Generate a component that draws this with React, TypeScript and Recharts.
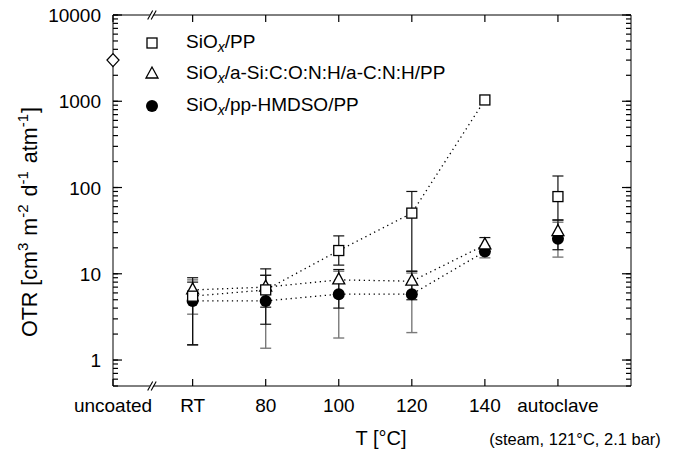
import { ComposedChart, ErrorBar, ReferenceDot, Scatter, XAxis, YAxis } from 'recharts';

// category positions on the numeric x axis (uncoated sits on the left frame, then a break)
const xPositions = [0, 1.09, 2.09, 3.09, 4.09, 5.09, 6.09];
const xLabels = ['uncoated', 'RT', '80', '100', '120', '140', 'autoclave'];
const xMax = 7.09;
const yMajorTicks = [1, 10, 100, 1000, 10000];
const yMin = 0.5;
const yMax = 10000;

// SiOx/PP (open squares): RT, 80, 100, 120, 140, autoclave
const sioxPP = [5.5, 6.5, 18.6, 50.5, 1035, 78.5];
const sioxPPLow = [1.5, 2.6, 12.6, 10.7, null, 42];
const sioxPPHigh = [8.0, 11.4, 27.5, 90, null, 136];

// SiOx/a-Si:C:O:N:H/a-C:N:H/PP (open triangles)
const sioxMulti = [6.5, 7.0, 8.5, 8.2, 21.6, 30.8];
const sioxMultiLow = [1.5, 4.1, 4.0, 5.0, 18.0, 19.0];
const sioxMultiHigh = [9.0, 9.6, 11.2, 10.7, 26.3, 42];

// SiOx/pp-HMDSO/PP (filled circles)
const sioxHmdso = [4.85, 4.85, 5.8, 5.8, 18.1, 25.4];
const sioxHmdsoLow = [3.4, 1.37, 1.8, 2.08, 15.3, 15.6];
const sioxHmdsoHigh = [8.5, 9.6, 10.7, 10.2, 21.0, 39.6];

const uncoatedOTR = 3000;

const FONT = '"Liberation Sans", Arial, Helvetica, sans-serif';

const buildRows = (values: number[], low: (number | null)[], high: (number | null)[]) =>
  values.map((v, i) => ({
    x: xPositions[i + 1],
    y: v,
    err: low[i] == null || high[i] == null ? null : [v - (low[i] as number), (high[i] as number) - v],
  }));

const squareRows = buildRows(sioxPP, sioxPPLow, sioxPPHigh);
const triangleRows = buildRows(sioxMulti, sioxMultiLow, sioxMultiHigh);
const circleRows = buildRows(sioxHmdso, sioxHmdsoLow, sioxHmdsoHigh);
const uncoatedRows = [{ x: xPositions[0], y: uncoatedOTR }];

// the dotted connectors run RT..140 only
const squareLine = squareRows.slice(0, 5);
const triangleLine = triangleRows.slice(0, 5);
const circleLine = circleRows.slice(0, 5);

// log axis: decade ticks plus 2..9 minor ticks inside the plotted range
const yTicks: number[] = [];
[0.1, ...yMajorTicks].forEach((decade) => {
  for (let m = 1; m <= 9; m++) {
    const t = +(decade * m).toPrecision(3);
    if (t >= yMin && t <= yMax && !yTicks.includes(t)) yTicks.push(t);
  }
});
const isMajor = (v: number) => yMajorTicks.includes(v);

// longer marks for the decades, on both vertical frame lines
const majorMarks = [
  ...yMajorTicks.map((t) => ({ x: 0, y: t, dx: 9 })),
  ...yMajorTicks.map((t) => ({ x: xMax, y: t, dx: -9 })),
];

const Square = ({ cx, cy }: any) => (
  <rect x={cx - 5} y={cy - 5} width={10} height={10} fill="#fff" stroke="#000" strokeWidth={1.3} />
);
const Triangle = ({ cx, cy }: any) => (
  <polygon
    points={`${cx},${cy - 7} ${cx - 6},${cy + 4} ${cx + 6},${cy + 4}`}
    fill="#fff"
    stroke="#000"
    strokeWidth={1.3}
  />
);
const Circle = ({ cx, cy }: any) => <circle cx={cx} cy={cy} r={6} fill="#000" />;
const Diamond = ({ cx, cy }: any) => (
  <polygon
    points={`${cx},${cy - 6.5} ${cx + 6},${cy} ${cx},${cy + 6.5} ${cx - 6},${cy}`}
    fill="#fff"
    stroke="#000"
    strokeWidth={1.3}
  />
);
const Hidden = () => <g />;
const MajorMark = (p: any) => (
  <line x1={p.cx} y1={p.cy} x2={p.cx + p.payload.dx} y2={p.cy} stroke="#000" strokeWidth={1.2} />
);

const BreakMark = ({ cx, cy }: any) => (
  <g>
    <line x1={cx - 4} y1={cy + 4} x2={cx + 1} y2={cy - 5} stroke="#fff" strokeWidth={3} />
    <line x1={cx - 5.5} y1={cy + 4.5} x2={cx - 0.5} y2={cy - 4.5} stroke="#000" strokeWidth={1.1} />
    <line x1={cx - 2} y1={cy + 4.5} x2={cx + 3} y2={cy - 4.5} stroke="#000" strokeWidth={1.1} />
  </g>
);

// tick lines point inward (negative tickSize); tickMargin puts x/y back on the frame line
const LeftLabel = ({ x, y, payload }: any) =>
  isMajor(payload.value) ? (
    <text x={x - 12} y={y} dy={7} textAnchor="end" fontSize={19} fill="#000">
      {payload.value}
    </text>
  ) : (
    <g />
  );

const BottomLabel = ({ x, y, index }: any) => (
  <text x={x} y={y + 26} textAnchor="middle" fontSize={19} fill="#000">
    {xLabels[index]}
  </text>
);

const NoLabel = () => <g />;

const YTitle = () => {
  const cx = 37;
  const cy = 222;
  return (
    <text x={cx} y={cy} transform={`rotate(-90, ${cx}, ${cy})`} textAnchor="middle" fontSize={21.5} fill="#000">
      <tspan>OTR [cm</tspan>
      <tspan dy={-9} fontSize={15}>3</tspan>
      <tspan dy={9} dx={7}>m</tspan>
      <tspan dy={-9} fontSize={15}>-2</tspan>
      <tspan dy={9} dx={8}>d</tspan>
      <tspan dy={-9} fontSize={15}>-1</tspan>
      <tspan dy={9} dx={8}>atm</tspan>
      <tspan dy={-9} fontSize={15}>-1</tspan>
      <tspan dy={9} dx={1}>]</tspan>
    </text>
  );
};

const XTitle = ({ viewBox }: any) => (
  <g>
    <text x={381} y={viewBox.y + 59} textAnchor="middle" fontSize={20} fill="#000">
      T [°C]
    </text>
    <text x={575} y={viewBox.y + 59} textAnchor="middle" fontSize={16.5} fill="#000">
      (steam, 121°C, 2.1 bar)
    </text>
  </g>
);

const legendItems = [
  { label: '/PP', Shape: Square },
  { label: '/a-Si:C:O:N:H/a-C:N:H/PP', Shape: Triangle },
  { label: '/pp-HMDSO/PP', Shape: Circle },
];

function LegendBox() {
  return (
    <div style={{ position: 'absolute', left: 140, top: 27, fontFamily: FONT, fontSize: 19, color: '#000' }}>
      {legendItems.map(({ label, Shape }) => (
        <div key={label} style={{ display: 'flex', alignItems: 'center', height: 31.5 }}>
          <svg width={24} height={24} style={{ marginRight: 22 }}>
            <Shape cx={12} cy={12} />
          </svg>
          <span>
            SiO
            <sub style={{ fontStyle: 'italic', fontSize: 14, verticalAlign: -4 }}>x</sub>
            {label}
          </span>
        </div>
      ))}
    </div>
  );
}

const lineStyle = { stroke: '#000', strokeWidth: 1.3, strokeDasharray: '1.3 3.6' };
const tickLineStyle = { stroke: '#000', strokeWidth: 1.2 };

export default function App() {
  return (
    <div style={{ position: 'absolute', left: 0, top: 0, width: 676, height: 456, fontFamily: FONT, background: '#fff' }}>
      <ComposedChart width={676} height={456} margin={{ top: 14, right: 44, bottom: 30, left: 0 }}>
        <XAxis
          xAxisId="b"
          type="number"
          dataKey="x"
          domain={[0, xMax]}
          ticks={xPositions}
          interval={0}
          tick={BottomLabel}
          tickLine={tickLineStyle}
          tickSize={-7}
          tickMargin={7}
          height={40}
          stroke="#000"
          label={XTitle}
        />
        <XAxis
          xAxisId="t"
          orientation="top"
          type="number"
          dataKey="x"
          domain={[0, xMax]}
          ticks={xPositions}
          interval={0}
          tick={NoLabel}
          tickLine={tickLineStyle}
          tickSize={-7}
          tickMargin={7}
          height={1}
          stroke="#000"
        />
        <YAxis
          yAxisId="l"
          type="number"
          dataKey="y"
          scale="log"
          domain={[yMin, yMax]}
          ticks={yTicks}
          interval={0}
          tick={LeftLabel}
          tickLine={tickLineStyle}
          tickSize={-5}
          tickMargin={5}
          width={113}
          stroke="#000"
          label={YTitle}
        />
        <YAxis
          yAxisId="r"
          orientation="right"
          type="number"
          dataKey="y"
          scale="log"
          domain={[yMin, yMax]}
          ticks={yTicks}
          interval={0}
          tick={NoLabel}
          tickLine={tickLineStyle}
          tickSize={-5}
          tickMargin={5}
          width={1}
          stroke="#000"
        />

        <Scatter xAxisId="t" yAxisId="r" data={uncoatedRows} shape={Hidden} isAnimationActive={false} />

        <Scatter xAxisId="b" yAxisId="l" data={squareLine} line={lineStyle} shape={Hidden} isAnimationActive={false} />
        <Scatter xAxisId="b" yAxisId="l" data={triangleLine} line={lineStyle} shape={Hidden} isAnimationActive={false} />
        <Scatter xAxisId="b" yAxisId="l" data={circleLine} line={lineStyle} shape={Hidden} isAnimationActive={false} />

        <Scatter xAxisId="b" yAxisId="l" data={circleRows} shape={Circle} isAnimationActive={false}>
          <ErrorBar dataKey="err" direction="y" width={5.5} stroke="#7a7a7a" strokeWidth={1.4} />
        </Scatter>
        <Scatter xAxisId="b" yAxisId="l" data={triangleRows} shape={Triangle} isAnimationActive={false}>
          <ErrorBar dataKey="err" direction="y" width={5.5} stroke="#111" strokeWidth={1.2} />
        </Scatter>
        <Scatter xAxisId="b" yAxisId="l" data={squareRows} shape={Square} isAnimationActive={false}>
          <ErrorBar dataKey="err" direction="y" width={5.5} stroke="#111" strokeWidth={1.2} />
        </Scatter>
        <Scatter xAxisId="b" yAxisId="l" data={majorMarks} shape={MajorMark} isAnimationActive={false} />
        <Scatter xAxisId="b" yAxisId="l" data={uncoatedRows} shape={Diamond} isAnimationActive={false} />

        <ReferenceDot xAxisId="b" yAxisId="l" x={0.55} y={yMax} ifOverflow="visible" shape={BreakMark} />
        <ReferenceDot xAxisId="b" yAxisId="l" x={0.55} y={yMin} ifOverflow="visible" shape={BreakMark} />
      </ComposedChart>
      <LegendBox />
    </div>
  );
}
